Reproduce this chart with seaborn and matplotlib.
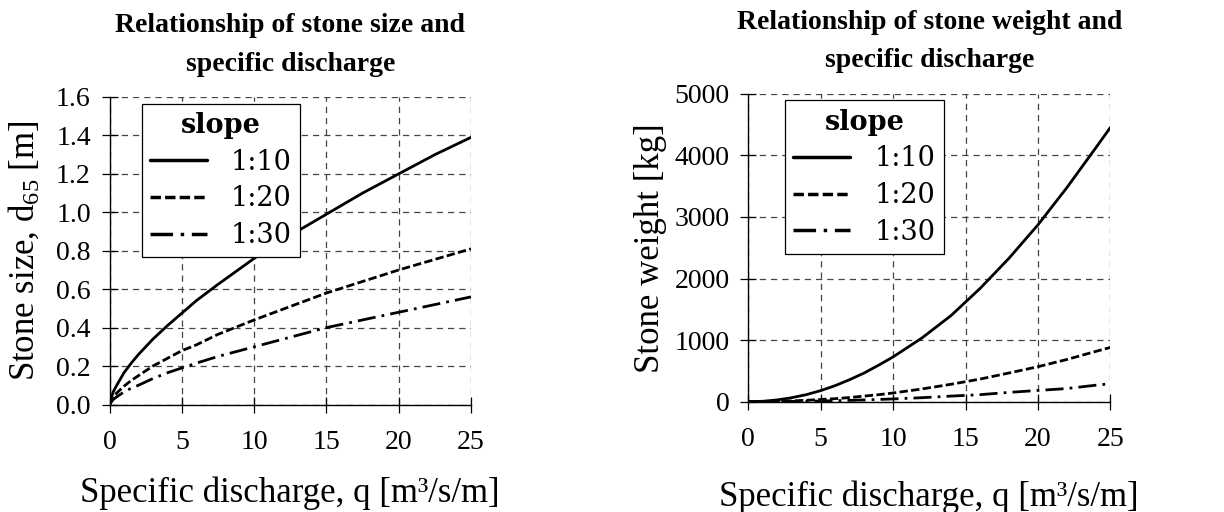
import matplotlib
matplotlib.use("Agg")
import matplotlib.pyplot as plt
import seaborn as sns
import pandas as pd

# ---- data ----
q_left = [0, 0.25, 0.5, 1, 1.5, 2, 3, 4, 5, 6, 7.5, 10, 12.5, 15, 17.5, 20, 22.5, 25]
d65_1_10 = [0, 0.065, 0.10, 0.165, 0.215, 0.26, 0.34, 0.41, 0.475, 0.54, 0.625, 0.76, 0.88, 0.99, 1.10, 1.20, 1.30, 1.39]
d65_1_20 = [0, 0.038, 0.06, 0.095, 0.125, 0.15, 0.20, 0.24, 0.28, 0.31, 0.365, 0.44, 0.51, 0.58, 0.64, 0.70, 0.755, 0.81]
d65_1_30 = [0, 0.026, 0.04, 0.065, 0.085, 0.10, 0.135, 0.165, 0.19, 0.215, 0.25, 0.30, 0.35, 0.40, 0.44, 0.48, 0.52, 0.56]

q_right = [0, 1, 2, 3, 4, 5, 6, 7, 8, 9, 10, 12, 14, 16, 18, 20, 22, 24, 25]
w_1_10 = [0, 7, 29, 65, 114, 180, 261, 358, 466, 593, 727, 1036, 1398, 1837, 2328, 2870, 3475, 4122, 4450]
w_1_20 = [0, 1.5, 5.6, 13, 23, 36, 49, 68, 91, 114, 141, 207, 283, 367, 466, 568, 685, 817, 880]
w_1_30 = [0, 0.5, 1.7, 4, 7.4, 11, 16.5, 21.5, 29, 36, 45, 65, 91, 114, 151, 183, 213, 268, 291]

slopes = ["1:10", "1:20", "1:30"]
x_ticks = [0, 5, 10, 15, 20, 25]
y_ticks_left = [0.0, 0.2, 0.4, 0.6, 0.8, 1.0, 1.2, 1.4, 1.6]
y_ticks_right = [0, 1000, 2000, 3000, 4000, 5000]

left_df = pd.concat([
    pd.DataFrame({"q": q_left, "val": v, "slope": s})
    for v, s in zip([d65_1_10, d65_1_20, d65_1_30], slopes)
])
right_df = pd.concat([
    pd.DataFrame({"q": q_right, "val": v, "slope": s})
    for v, s in zip([w_1_10, w_1_20, w_1_30], slopes)
])

sns.set_theme(style="white")
plt.rcParams["font.family"] = ["Liberation Serif", "DejaVu Serif"]
plt.rcParams["mathtext.fontset"] = "custom"
plt.rcParams["mathtext.rm"] = "Liberation Serif"
plt.rcParams["mathtext.it"] = "Liberation Serif"
plt.rcParams["text.color"] = "black"
plt.rcParams["axes.labelcolor"] = "black"
plt.rcParams["xtick.color"] = "black"
plt.rcParams["ytick.color"] = "black"
plt.rcParams["axes.titlecolor"] = "black"

W, H = 1224, 512
fig = plt.figure(figsize=(W / 100, H / 100), dpi=100)

def px_axes(x0, x1, ytop, ybot):
    return fig.add_axes([x0 / W, (H - ybot) / H, (x1 - x0) / W, (ybot - ytop) / H])

ax1 = px_axes(109.5, 471, 97, 404.5)
ax2 = px_axes(748.3, 1110.3, 93.7, 401.7)

dashes = {"1:10": "", "1:20": (3, 1.2), "1:30": (6.5, 2.2, 1, 2.2)}

def style_axes(ax, df, yticks, ylim, ylabel, title, yfmt, xlabelpad, ylabelpad, legx):
    sns.lineplot(data=df, x="q", y="val", hue="slope", style="slope",
                 palette=["black"] * 3, dashes=dashes, linewidth=2.0,
                 ax=ax, legend=True, zorder=3)
    ax.set_xlim(0, 25)
    ax.set_ylim(*ylim)
    ax.set_xticks(x_ticks)
    ax.set_yticks(yticks)
    ax.set_yticklabels([yfmt(v) for v in yticks])
    ax.grid(True, color="#444444", linestyle=(0, (5, 4)), linewidth=0.9)
    ax.set_axisbelow(True)
    for side in ["top", "right"]:
        ax.spines[side].set_visible(False)
    for side in ["left", "bottom"]:
        ax.spines[side].set_color("black")
        ax.spines[side].set_linewidth(1.0)
    ax.tick_params(direction="inout", length=11, width=0.9, color="black",
                   labelcolor="black", labelsize=20, left=True, bottom=True)
    ax.tick_params(axis="x", pad=13)
    ax.tick_params(axis="y", pad=8)
    ax.set_xlabel("Specific discharge, q [m³/s/m]", fontsize=25, labelpad=xlabelpad,
                  color="black")
    ax.set_ylabel(ylabel, fontsize=25, labelpad=ylabelpad, color="black")
    ax.set_title(title, fontsize=20, fontweight="bold", pad=19, linespacing=1.7,
                 color="black")
    leg = ax.legend(title="slope", loc="upper left", bbox_to_anchor=(legx, 0.978),
                    prop={"family": "DejaVu Serif", "size": 19.5},
                    title_fontproperties={"family": "DejaVu Serif", "weight": "bold", "size": 19.5},
                    frameon=True, fancybox=False, handlelength=2.1,
                    borderpad=0.3, labelspacing=0.36, handletextpad=0.9,
                    borderaxespad=0, labelcolor="black")
    leg.get_title().set_color("black")
    leg.get_frame().set_edgecolor("black")
    leg.get_frame().set_linewidth(0.9)
    leg.get_frame().set_alpha(1)
    leg.set_zorder(5)
    for h in leg.get_lines():
        h.set_linewidth(2.5)

style_axes(ax1, left_df, y_ticks_left, (0, 1.6), "Stone size, d$_{65}$ [m]",
           "Relationship of stone size and\nspecific discharge", lambda v: f"{v:.1f}",
           15, 10, 0.089)
style_axes(ax2, right_df, y_ticks_right, (0, 5000), "Stone weight [kg]",
           "Relationship of stone weight and\nspecific discharge", lambda v: f"{v:d}",
           20, 5, 0.102)

fig.savefig("out.png", dpi=100)
